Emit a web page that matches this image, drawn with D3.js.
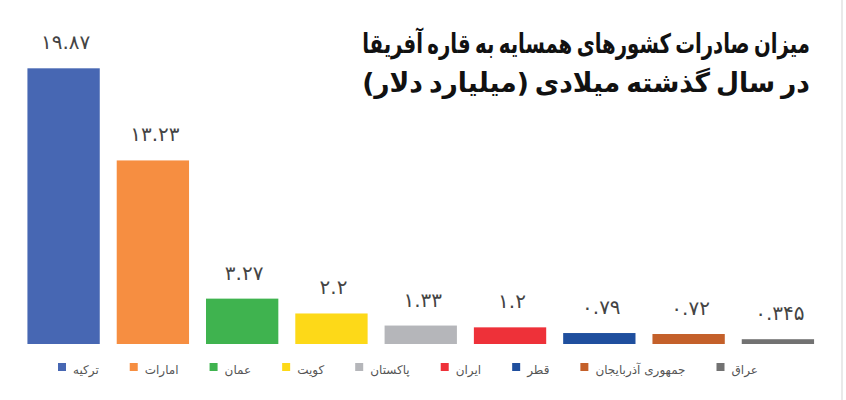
<!DOCTYPE html>
<html>
<head>
<meta charset="utf-8">
<script src="https://cdn.jsdelivr.net/npm/d3@7"></script>
<style>
  html, body { margin: 0; padding: 0; background: #fff; }
  svg { display: block; }
</style>
</head>
<body>
<svg id="chart"></svg>
<script>
// chart data
const countries = ['ترکیه', 'امارات', 'عمان', 'کویت', 'پاکستان', 'ایران', 'قطر', 'جمهوری آذربایجان', 'عراق'];
const exportsBn = [19.87, 13.23, 3.27, 2.2, 1.33, 1.2, 0.79, 0.72, 0.345];
const barColors = ['#4767b3', '#f68e41', '#3fb34f', '#fdd918', '#b5b6ba', '#ee3139', '#1f4f9e', '#c4602a', '#727272'];
const titleLines = ['میزان صادرات کشورهای همسایه به قاره آفریقا', 'در سال گذشته میلادی (میلیارد دلار)'];

const width = 846, height = 400;
const svg = d3.select('#chart').attr('width', width).attr('height', height);

// persian digits for the value labels
const faDigits = '۰۱۲۳۴۵۶۷۸۹';
const toFa = v => String(v).replace(/\d/g, d => faDigits[+d]);

const data = countries.map((c, i) => ({ name: c, value: exportsBn[i], color: barColors[i] }));

const x = d3.scaleBand()
    .domain(countries)
    .range([18.5, 823])
    .paddingInner(0.19)
    .paddingOuter(0.1);

const y = d3.scaleLinear()
    .domain([0, 20])
    .range([344, 66.5]);

// faint frame line on the right
svg.append('line')
    .attr('x1', 842).attr('x2', 842)
    .attr('y1', 0).attr('y2', height)
    .attr('stroke', '#e2e2e2')
    .attr('stroke-width', 1.5);

// bars
svg.selectAll('.bar')
    .data(data)
    .enter()
    .append('rect')
    .attr('class', 'bar')
    .attr('x', d => x(d.name))
    .attr('y', d => y(d.value))
    .attr('width', x.bandwidth())
    .attr('height', d => y(0) - y(d.value))
    .attr('fill', d => d.color);

// value labels
svg.selectAll('.val')
    .data(data)
    .enter()
    .append('text')
    .attr('class', 'val')
    .attr('x', d => x(d.name) + x.bandwidth() / 2 + 2)
    .attr('y', d => y(d.value) - 19)
    .attr('text-anchor', 'middle')
    .attr('fill', '#444')
    .style('font-family', '"DejaVu Sans", sans-serif')
    .style('font-size', '20px')
    .style('letter-spacing', '4px')
    .text(d => toFa(d.value));

// title, right aligned; each line fitted to the width in the picture
const titleRight = 810, titleWidth = 448;
svg.selectAll('.title')
    .data(titleLines)
    .enter()
    .append('text')
    .attr('class', 'title')
    .attr('x', 0)
    .attr('y', 0)
    .attr('direction', 'rtl')
    .attr('text-anchor', 'start')
    .attr('fill', '#111')
    .style('font-family', '"DejaVu Sans Condensed", "DejaVu Sans", sans-serif')
    .style('font-weight', 'bold')
    .style('font-size', '27px')
    .style('word-spacing', '-3px')
    .text(d => d)
    .each(function(d, i) {
        const k = titleWidth / this.getComputedTextLength();
        d3.select(this).attr('transform', `translate(${titleRight},${53 + i * 39}) scale(${k},1)`);
    });

// legend, flows left to right
const legend = svg.append('g').attr('class', 'legend');
let lx = 58;
data.forEach(d => {
    const item = legend.append('g').attr('transform', `translate(${lx},0)`);
    item.append('rect')
        .attr('x', 0).attr('y', 363)
        .attr('width', 8).attr('height', 8)
        .attr('fill', d.color);
    const t = item.append('text')
        .attr('x', 15).attr('y', 374)
        .attr('fill', '#555')
        .style('font-family', '"DejaVu Sans", sans-serif')
        .style('font-size', '12px')
        .text(d.name);
    lx += 15 + t.node().getComputedTextLength() + 31;
});
</script>
</body>
</html>
